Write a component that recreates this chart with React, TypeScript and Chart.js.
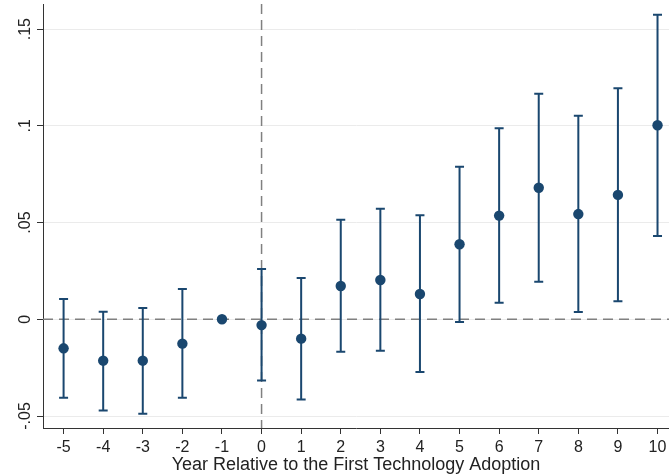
import React, { useEffect, useRef } from "react";
import { Chart, registerables } from "chart.js";

Chart.register(...registerables);

const years = [-5, -4, -3, -2, -1, 0, 1, 2, 3, 4, 5, 6, 7, 8, 9, 10];
const estimates = [-0.015, -0.0214, -0.0214, -0.0126, 0, -0.003, -0.01, 0.0172, 0.0203, 0.0131, 0.0388, 0.0536, 0.068, 0.0544, 0.0643, 0.1003];
const ciLower: (number | null)[] = [-0.0405, -0.0471, -0.0488, -0.0405, null, -0.0317, -0.0415, -0.0168, -0.0163, -0.0273, -0.0014, 0.0086, 0.0194, 0.0038, 0.0093, 0.0431];
const ciUpper: (number | null)[] = [0.0105, 0.0039, 0.0058, 0.0157, null, 0.026, 0.0214, 0.0515, 0.0572, 0.0538, 0.0789, 0.0988, 0.1166, 0.1052, 0.1195, 0.1575];
const yTicks = [-0.05, 0, 0.05, 0.1, 0.15];
const yTickLabels = ["-.05", "0", ".05", ".1", ".15"];
const xTicks = years;
const xTickLabels = years.map(String);
const xTitle = "Year Relative to the First Technology Adoption";
const refX = 0;
const refY = 0;

const NAVY = "#1a476f";
const FONT = "'Liberation Sans', Arial, sans-serif";

const refLinesPlugin = {
  id: "refLines",
  beforeDatasetsDraw(chart: any) {
    const { ctx, chartArea, scales } = chart;
    ctx.save();
    ctx.beginPath();
    ctx.rect(chartArea.left, chartArea.top, chartArea.right - chartArea.left, chartArea.bottom - chartArea.top);
    ctx.clip();
    ctx.strokeStyle = "#808080";
    ctx.lineWidth = 1.5;
    ctx.setLineDash([10, 6]);
    const y0 = scales.y.getPixelForValue(refY);
    ctx.beginPath();
    ctx.moveTo(chartArea.left, y0);
    ctx.lineTo(chartArea.right, y0);
    ctx.stroke();
    const x0 = scales.x.getPixelForValue(refX);
    ctx.beginPath();
    ctx.moveTo(x0, chartArea.top);
    ctx.lineTo(x0, chartArea.bottom);
    ctx.stroke();
    ctx.setLineDash([]);
    ctx.strokeStyle = NAVY;
    ctx.lineWidth = 2;
    years.forEach((yr, i) => {
      const lo = ciLower[i];
      const hi = ciUpper[i];
      if (lo === null || hi === null) return;
      const x = scales.x.getPixelForValue(yr);
      const yl = scales.y.getPixelForValue(lo);
      const yh = scales.y.getPixelForValue(hi);
      ctx.beginPath();
      ctx.moveTo(x, yl);
      ctx.lineTo(x, yh);
      ctx.moveTo(x - 4.5, yl);
      ctx.lineTo(x + 4.5, yl);
      ctx.moveTo(x - 4.5, yh);
      ctx.lineTo(x + 4.5, yh);
      ctx.stroke();
    });
    ctx.restore();
  },
};

const yLabelPlugin = {
  id: "yLabels",
  afterDraw(chart: any) {
    const { ctx, scales } = chart;
    ctx.save();
    ctx.fillStyle = "#222";
    ctx.font = `16px ${FONT}`;
    ctx.textAlign = "center";
    ctx.textBaseline = "middle";
    yTicks.forEach((v, i) => {
      const y = scales.y.getPixelForValue(v);
      ctx.save();
      ctx.translate(26, y);
      ctx.rotate(-Math.PI / 2);
      ctx.fillText(yTickLabels[i], 0, 0);
      ctx.restore();
    });
    ctx.restore();
  },
};

export default function App() {
  const ref = useRef<HTMLCanvasElement | null>(null);
  useEffect(() => {
    if (!ref.current) return;
    const chart = new Chart(ref.current, {
      type: "scatter",
      data: {
        datasets: [
          {
            data: years.map((x, i) => ({ x, y: estimates[i] })),
            backgroundColor: NAVY,
            borderColor: NAVY,
            pointRadius: 5.2,
            pointHoverRadius: 5.2,
            borderWidth: 0,
          },
        ],
      },
      options: {
        animation: false,
        responsive: false,
        events: [],
        layout: { autoPadding: false, padding: { top: 4, right: 0, left: 0, bottom: 0 } },
        plugins: { legend: { display: false }, tooltip: { enabled: false } },
        scales: {
          x: {
            type: "linear",
            min: -5.52,
            max: 10.29,
            afterBuildTicks: (s: any) => {
              s.ticks = xTicks.map((v) => ({ value: v }));
            },
            afterFit: (s: any) => {
              s.height = 48;
              s.paddingLeft = 0;
              s.paddingRight = 0;
            },
            ticks: {
              autoSkip: false,
              maxRotation: 0,
              color: "#222",
              font: { family: FONT, size: 16 },
              padding: 4,
              callback: (v: any) => {
                const i = xTicks.indexOf(Number(v));
                return i >= 0 ? xTickLabels[i] : "";
              },
            },
            grid: {
              display: true,
              drawOnChartArea: false,
              drawTicks: true,
              tickLength: 6,
              tickColor: "#333",
            },
            border: { display: true, color: "#333", width: 1 },
            title: {
              display: true,
              text: xTitle,
              color: "#222",
              font: { family: FONT, size: 18 },
              padding: { top: 0, bottom: 0 },
            },
          },
          y: {
            type: "linear",
            min: -0.0562,
            max: 0.163,
            afterBuildTicks: (s: any) => {
              s.ticks = yTicks.map((v) => ({ value: v }));
            },
            afterFit: (s: any) => {
              s.width = 43;
              s.paddingTop = 0;
              s.paddingBottom = 0;
            },
            ticks: { display: false },
            grid: {
              display: true,
              color: "#ebebeb",
              lineWidth: 1,
              drawTicks: true,
              tickLength: 6,
              tickColor: "#333",
            },
            border: { display: true, color: "#333", width: 1 },
          },
        },
      },
      plugins: [refLinesPlugin, yLabelPlugin],
    });
    return () => chart.destroy();
  }, []);
  return (
    <div style={{ position: "fixed", left: 0, top: 0, width: 669, height: 476, background: "#fff" }}>
      <canvas ref={ref} width={669} height={476} style={{ display: "block" }} />
    </div>
  );
}
